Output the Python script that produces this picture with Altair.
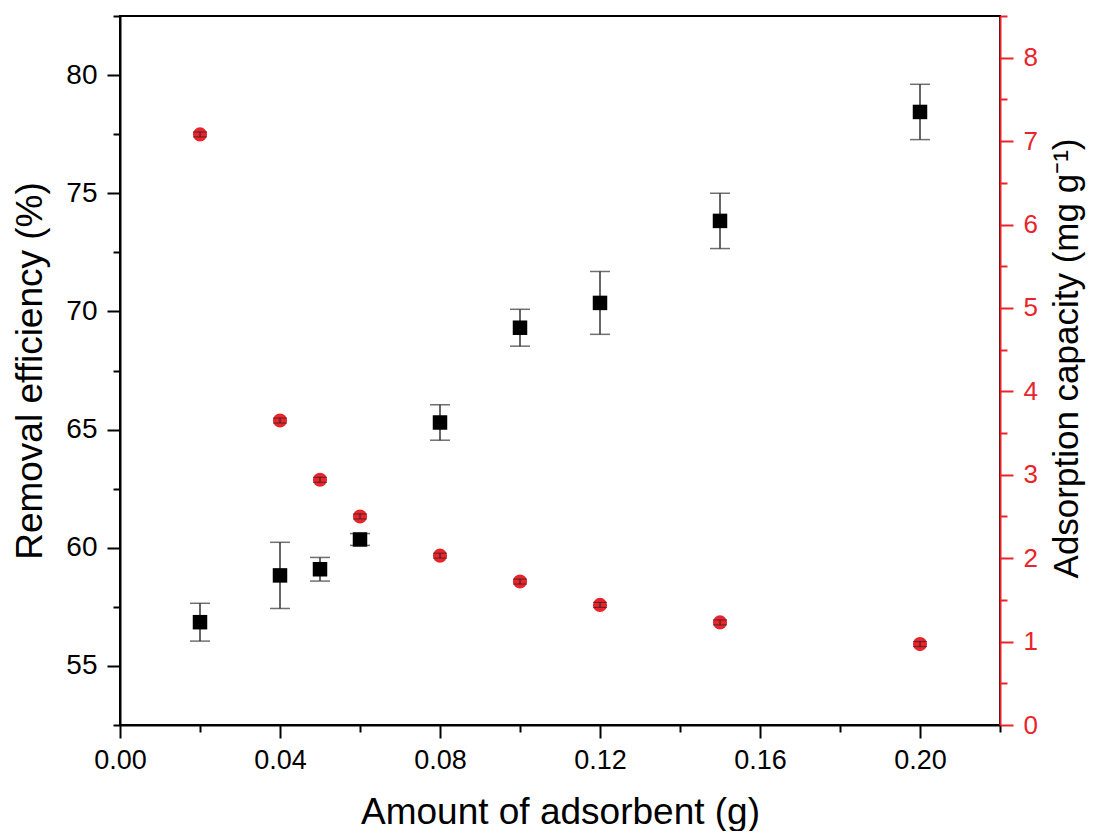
import altair as alt
import pandas as pd

# Data
amount = [0.02, 0.04, 0.05, 0.06, 0.08, 0.10, 0.12, 0.15, 0.20]
removal = [56.85, 58.83, 59.09, 60.35, 65.30, 69.31, 70.36, 73.83, 78.44]
removal_err = [0.80, 1.40, 0.50, 0.25, 0.75, 0.78, 1.33, 1.17, 1.17]
capacity = [7.08, 3.65, 2.94, 2.50, 2.03, 1.72, 1.44, 1.23, 0.97]
capacity_err = [0.03, 0.03, 0.03, 0.03, 0.03, 0.03, 0.03, 0.03, 0.03]

x_ticks = [0.00, 0.02, 0.04, 0.06, 0.08, 0.10, 0.12, 0.14, 0.16, 0.18, 0.20, 0.22]
left_ticks = [52.5, 55, 57.5, 60, 62.5, 65, 67.5, 70, 72.5, 75, 77.5, 80, 82.5]
right_ticks = [0, 0.5, 1, 1.5, 2, 2.5, 3, 3.5, 4, 4.5, 5, 5.5, 6, 6.5, 7, 7.5, 8, 8.5]

df = pd.DataFrame({
    "amount": amount,
    "removal": removal,
    "removal_lo": [v - e for v, e in zip(removal, removal_err)],
    "removal_hi": [v + e for v, e in zip(removal, removal_err)],
    "capacity": capacity,
    "capacity_lo": [v - e for v, e in zip(capacity, capacity_err)],
    "capacity_hi": [v + e for v, e in zip(capacity, capacity_err)],
})

FONT = "Liberation Sans"
RED = "#e8242c"

x_enc = alt.X(
    "amount:Q",
    scale=alt.Scale(domain=[0, 0.22], nice=False, zero=False),
    axis=alt.Axis(
        title="Amount of adsorbent (g)",
        values=x_ticks,
        format=".2f",
        labelExpr="round(datum.value*100) % 4 === 0 ? datum.label : ''",
        tickSize={"condition": {"test": "round(datum.value*100) % 4 === 0", "value": 13}, "value": 7},
        labelFontSize=27,
        titleFontSize=37,
        labelPadding=9,
        titlePadding=21,
        domainColor="black",
        tickColor="black",
        labelColor="black",
        titleColor="black",
        domainWidth=2,
        tickWidth=2,
        labelFlush=False,
    ),
)

left_scale = alt.Scale(domain=[52.5, 82.5], nice=False, zero=False)
left_axis = alt.Axis(
    title="Removal efficiency (%)",
    orient="left",
    values=left_ticks,
    labelExpr="datum.value % 5 === 0 ? datum.label : ''",
    tickSize={"condition": {"test": "datum.value % 5 === 0", "value": 13}, "value": 7},
    labelFontSize=28,
    titleFontSize=37,
    labelPadding=10,
    titlePadding=16,
    domainColor="black",
    tickColor="black",
    labelColor="black",
    titleColor="black",
    domainWidth=2,
    tickWidth=2,
    labelFlush=False,
)

right_scale = alt.Scale(domain=[0, 8.5], nice=False, zero=False)
right_axis = alt.Axis(
    title="Adsorption capacity (mg g⁻¹)",
    orient="right",
    values=right_ticks,
    format=".0f",
    labelExpr="datum.value % 1 === 0 ? datum.label : ''",
    tickSize={"condition": {"test": "datum.value % 1 === 0", "value": 13}, "value": 7},
    labelFontSize=26,
    titleFontSize=35,
    labelPadding=10,
    titlePadding=12,
    titleAngle=270,
    titleBaseline="top",
    titleAlign="center",
    titleY=342,
    domainColor=RED,
    tickColor=RED,
    labelColor=RED,
    titleColor="black",
    domainWidth=2,
    tickWidth=2,
    labelFlush=False,
)

base = alt.Chart(df)

black_bars = base.mark_rule(color="#333333", strokeWidth=1.5).encode(
    x=x_enc,
    y=alt.Y("removal_lo:Q", scale=left_scale, axis=left_axis),
    y2="removal_hi:Q",
)
black_cap_lo = base.mark_tick(color="#333333", orient="horizontal", size=20, thickness=1.5).encode(
    x="amount:Q", y="removal_lo:Q"
)
black_cap_hi = base.mark_tick(color="#333333", orient="horizontal", size=20, thickness=1.5).encode(
    x="amount:Q", y="removal_hi:Q"
)
squares = base.mark_square(color="black", opacity=1, size=210).encode(
    x="amount:Q", y="removal:Q"
)

black = alt.layer(black_bars, black_cap_lo, black_cap_hi, squares)

circles = base.mark_circle(color=RED, opacity=1, size=200).encode(
    x=x_enc,
    y=alt.Y("capacity:Q", scale=right_scale, axis=right_axis),
)
red_bars = base.mark_rule(color="#222222", strokeWidth=1).encode(
    x="amount:Q", y="capacity_lo:Q", y2="capacity_hi:Q"
)
red_cap_lo = base.mark_tick(color="#222222", orient="horizontal", size=14, thickness=1).encode(
    x="amount:Q", y="capacity_lo:Q"
)
red_cap_hi = base.mark_tick(color="#222222", orient="horizontal", size=14, thickness=1).encode(
    x="amount:Q", y="capacity_hi:Q"
)
red = alt.layer(circles, red_bars, red_cap_lo, red_cap_hi)

chart = (
    alt.layer(black, red)
    .resolve_scale(y="independent")
    .properties(
        width=880,
        height=709,
        autosize=alt.AutoSizeParams(type="none"),
        padding={"left": 112, "top": 8, "right": 86, "bottom": 106},
    )
    .configure_view(stroke="black", strokeWidth=2)
    .configure_axis(grid=False, labelFont=FONT, titleFont=FONT, titleFontWeight="normal")
)

chart.save("out.html", embed_options={"renderer": "svg", "actions": False})
